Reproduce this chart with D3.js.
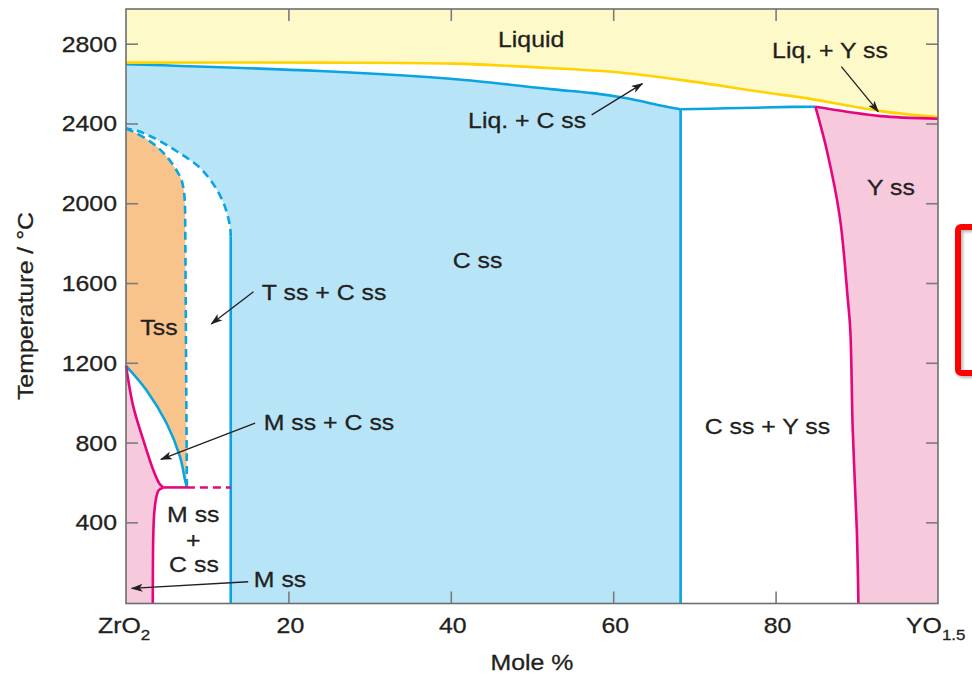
<!DOCTYPE html>
<html>
<head>
<meta charset="utf-8">
<script src="https://cdn.jsdelivr.net/npm/d3@7"></script>
<style>
  html, body { margin: 0; padding: 0; background: #ffffff; }
  svg { display: block; }
  text { font-family: "Liberation Sans", Arial, Helvetica, sans-serif; fill: #231f20; stroke: #231f20; stroke-width: 0.3; }
</style>
</head>
<body>
<svg id="chart" width="972" height="674"></svg>
<script>
// ---------------- DATA (mole % YO1.5, temperature °C) ----------------
const xTicks = [20, 40, 60, 80];
const yTicks = [400, 800, 1200, 1600, 2000, 2400, 2800];
const xEndLabels = [{ v: 0, main: "ZrO", sub: "2" }, { v: 100, main: "YO", sub: "1.5" }];

// liquidus (yellow)
const liquidus = [[0, 2705], [24, 2705], [40.3, 2700], [52.6, 2677], [61.7, 2652], [69.8, 2610],
  [78.1, 2559], [84.6, 2521], [88.8, 2490], [92.9, 2462], [97, 2443], [100, 2432]];
// C ss solidus (blue)
const cssSolidus = [[0, 2697], [23.9, 2663], [40.3, 2623], [52.6, 2571], [57.5, 2552], [61.7, 2526],
  [65.8, 2490], [68.3, 2471]];
// flat blue line C ss + Y ss top
const cssYssTop = [[68.3, 2471], [74, 2476], [82.1, 2483], [84.9, 2484]];
// Y ss solidus (pink top)
const yssTop = [[84.9, 2484], [88.8, 2459], [92.9, 2437], [100, 2424]];
// Y ss solvus (pink)
const yssSolvus = [[84.9, 2484], [86.3, 2267], [87.9, 1933], [88.9, 1515], [89.2, 1364],
  [89.5, 863], [90.0, 362], [90.2, 0]];
// C ss right boundary (blue vertical)
const cssRight = [[68.3, 2471], [68.3, 0]];
// C ss left boundary: solid vertical then dashed curve
const cssLeftSolid = [[12.9, 0], [12.9, 1832]];
const cssLeftDashed = [[12.9, 1832], [12.85, 1870], [12.6, 1925], [12.1, 1992], [11.3, 2060], [10.3, 2122],
  [9.1, 2178], [7.7, 2222], [6.2, 2262], [4.6, 2302], [3.0, 2336], [1.5, 2362], [0, 2375]];
// T ss right boundary (dashed blue)
const tssDashed = [[0, 2375], [0.9, 2359], [2.4, 2325], [3.8, 2284], [5.1, 2230], [6.2, 2167],
  [6.8, 2120], [7.1, 2070], [7.25, 2000], [7.3, 1849], [7.4, 1200], [7.5, 575]];
// T ss / M ss boundary (blue solid)
const tssLower = [[0, 1185], [2.5, 1064], [5.0, 897], [6.65, 729], [7.27, 612], [7.5, 575]];
// M ss solvus upper (pink)
const mssUpper = [[0, 1185], [0.9, 980], [2.13, 813], [3.36, 662], [4.1, 595], [4.6, 575]];
// M ss solvus lower (pink)
const mssLower = [[4.6, 575], [4.0, 560], [3.7, 520], [3.45, 430], [3.35, 311], [3.3, 46], [3.3, 0]];
// eutectoid line
const eutectoidSolid = [[4.6, 575], [7.5, 575]];
const eutectoidDashed = [[7.5, 575], [12.9, 575]];

// phase labels
const labels = [
  { t: "Liquid", x: 49.9, y: 2784 },
  { t: "Liq. + Y ss", x: 86.7, y: 2727 },
  { t: "Liq. + C ss", x: 49.4, y: 2376 },
  { t: "C ss", x: 43.3, y: 1674 },
  { t: "T ss + C ss", x: 24.4, y: 1515 },
  { t: "Tss", x: 4.06, y: 1339 },
  { t: "M ss + C ss", x: 25.0, y: 863 },
  { t: "C ss + Y ss", x: 79.0, y: 841 },
  { t: "Y ss", x: 94.2, y: 2041 },
  { t: "M ss", x: 8.29, y: 403 },
  { t: "+", x: 8.29, y: 271 },
  { t: "C ss", x: 8.37, y: 152 },
  { t: "M ss", x: 18.97, y: 77 }
];
// arrows [from, to]
const arrows = [
  [[57.35, 2443], [63.6, 2600]],
  [[88.1, 2685], [92.65, 2459]],
  [[15.7, 1556], [10.5, 1395]],
  [[15.9, 897], [4.3, 716]],
  [[15.05, 102], [0.7, 69]]
];

// ---------------- SCALES ----------------
const svg = d3.select("#chart");
const pL = 126, pR = 938, pT = 9, pB = 603.5;
const x = d3.scaleLinear().domain([0, 100]).range([pL, pR]);
const y = d3.scaleLinear().domain([-7, 2974]).range([pB, pT]);
const yMin = y.domain()[0], yMax = y.domain()[1];
const yy = t => y(t <= 0 ? yMin : t);

const COL = {
  liqFill: "#fef9c9", cssFill: "#b8e4f8", tssFill: "#f9c48c", pinkFill: "#f7c9dd",
  yellow: "#ffd200", blue: "#0aa4e0", pink: "#e5067f", frame: "#6d6e71", text: "#231f20"
};

const curve = d3.curveCatmullRom.alpha(0.5);
const lineGen = d3.line().x(d => x(d[0])).y(d => yy(d[1])).curve(curve);
const seg = (pts, cont) => { const s = lineGen(pts); return cont ? "L" + s.slice(1) : s; };
const rev = a => a.slice().reverse();

const plot = svg.append("g");

// ---------------- FILLS ----------------
plot.append("path")
  .attr("d", "M" + x(0) + "," + y(yMax) + seg(liquidus, true) + "L" + x(100) + "," + y(yMax) + "Z")
  .attr("fill", COL.liqFill);
plot.append("path")
  .attr("d", seg(cssSolidus) + seg(cssRight, true) + seg(cssLeftSolid, true) + seg(cssLeftDashed, true) + "Z")
  .attr("fill", COL.cssFill);
plot.append("path")
  .attr("d", seg(tssDashed) + seg(rev(tssLower), true) + "Z")
  .attr("fill", COL.tssFill);
plot.append("path")
  .attr("d", seg(mssUpper) + seg(mssLower, true) + "L" + x(0) + "," + yy(0) + "Z")
  .attr("fill", COL.pinkFill);
plot.append("path")
  .attr("d", seg(yssTop) + "L" + x(100) + "," + yy(0) + seg(rev(yssSolvus), true) + "Z")
  .attr("fill", COL.pinkFill);

// ---------------- BOUNDARY LINES ----------------
const lw = 2.6;
function drawLine(pts, color, dashed) {
  plot.append("path").attr("d", lineGen(pts)).attr("fill", "none")
    .attr("stroke", color).attr("stroke-width", lw)
    .attr("stroke-dasharray", dashed ? "8,5" : null)
    .attr("stroke-linejoin", "round");
}
drawLine(cssSolidus, COL.blue);
drawLine(cssYssTop, COL.blue);
drawLine(cssRight, COL.blue);
drawLine(cssLeftSolid, COL.blue);
drawLine(cssLeftDashed, COL.blue, true);
drawLine(tssDashed, COL.blue, true);
drawLine(tssLower, COL.blue);
drawLine(liquidus, COL.yellow);
drawLine(yssTop, COL.pink);
drawLine(yssSolvus, COL.pink);
drawLine(mssUpper, COL.pink);
drawLine(mssLower, COL.pink);
drawLine(eutectoidSolid, COL.pink);
drawLine(eutectoidDashed, COL.pink, true);

// ---------------- FRAME & TICKS ----------------
const tickLen = 12, tickCol = "#7b7c7e";
const axB = d3.axisTop(x).tickValues(xTicks).tickSize(tickLen).tickFormat("");
const axT = d3.axisBottom(x).tickValues(xTicks).tickSize(tickLen).tickFormat("");
const axL = d3.axisRight(y).tickValues(yTicks).tickSize(tickLen).tickFormat("");
const axR = d3.axisLeft(y).tickValues(yTicks).tickSize(tickLen).tickFormat("");
[[axB, `translate(0,${pB})`], [axT, `translate(0,${pT})`], [axL, `translate(${pL},0)`], [axR, `translate(${pR},0)`]]
  .forEach(([ax, tr]) => {
    const g = svg.append("g").attr("transform", tr).call(ax);
    g.select(".domain").remove();
    g.selectAll("line").attr("stroke", tickCol).attr("stroke-width", 1.6);
  });
svg.append("rect").attr("x", pL).attr("y", pT).attr("width", pR - pL).attr("height", pB - pT)
  .attr("fill", "none").attr("stroke", COL.frame).attr("stroke-width", 1.6);

// ---------------- TEXT ----------------
const SX = 1.13, FS = 22;
function txt(px, py, str, anchor, rot) {
  return svg.append("text")
    .attr("transform", `translate(${px},${py})` + (rot ? ` rotate(${rot})` : "") + ` scale(${SX},1)`)
    .attr("text-anchor", anchor || "middle").attr("font-size", FS).text(str);
}
yTicks.forEach(v => txt(117, y(v) + 8, v, "end"));
xTicks.forEach(v => txt(x(v) + 2, 633, v, "middle"));
xEndLabels.forEach(d => {
  const t = svg.append("text")
    .attr("transform", `translate(${d.v === 0 ? 98 : 906},633) scale(${SX},1)`)
    .attr("text-anchor", "start").attr("font-size", FS);
  t.append("tspan").text(d.main);
  t.append("tspan").attr("font-size", 15).attr("dy", 7).text(d.sub);
});
txt(532, 670, "Mole %", "middle");
txt(33, 306, "Temperature / °C", "middle", -90);

labels.forEach(d => txt(x(d.x), y(d.y), d.t, "middle"));

// arrows
const defs = svg.append("defs");
defs.append("marker").attr("id", "ah").attr("viewBox", "0 0 12 8").attr("refX", 11).attr("refY", 4)
  .attr("markerWidth", 12).attr("markerHeight", 8).attr("markerUnits", "userSpaceOnUse").attr("orient", "auto")
  .append("path").attr("d", "M0,0 L12,4 L0,8 L3,4 Z").attr("fill", "#231f20");
arrows.forEach(a => {
  svg.append("line").attr("x1", x(a[0][0])).attr("y1", y(a[0][1]))
    .attr("x2", x(a[1][0])).attr("y2", y(a[1][1]))
    .attr("stroke", "#231f20").attr("stroke-width", 1.3).attr("marker-end", "url(#ah)");
});

// red highlight box partially visible at the right edge
const flt = defs.append("filter").attr("id", "sh").attr("x", "-20%").attr("y", "-20%").attr("width", "150%").attr("height", "150%");
flt.append("feDropShadow").attr("dx", 2).attr("dy", 2).attr("stdDeviation", 1.5).attr("flood-color", "#888").attr("flood-opacity", 0.6);
svg.append("rect").attr("x", 958).attr("y", 227).attr("width", 60).attr("height", 146).attr("rx", 3)
  .attr("fill", "none").attr("stroke", "#ff0000").attr("stroke-width", 6).attr("filter", "url(#sh)");
</script>
</body>
</html>
